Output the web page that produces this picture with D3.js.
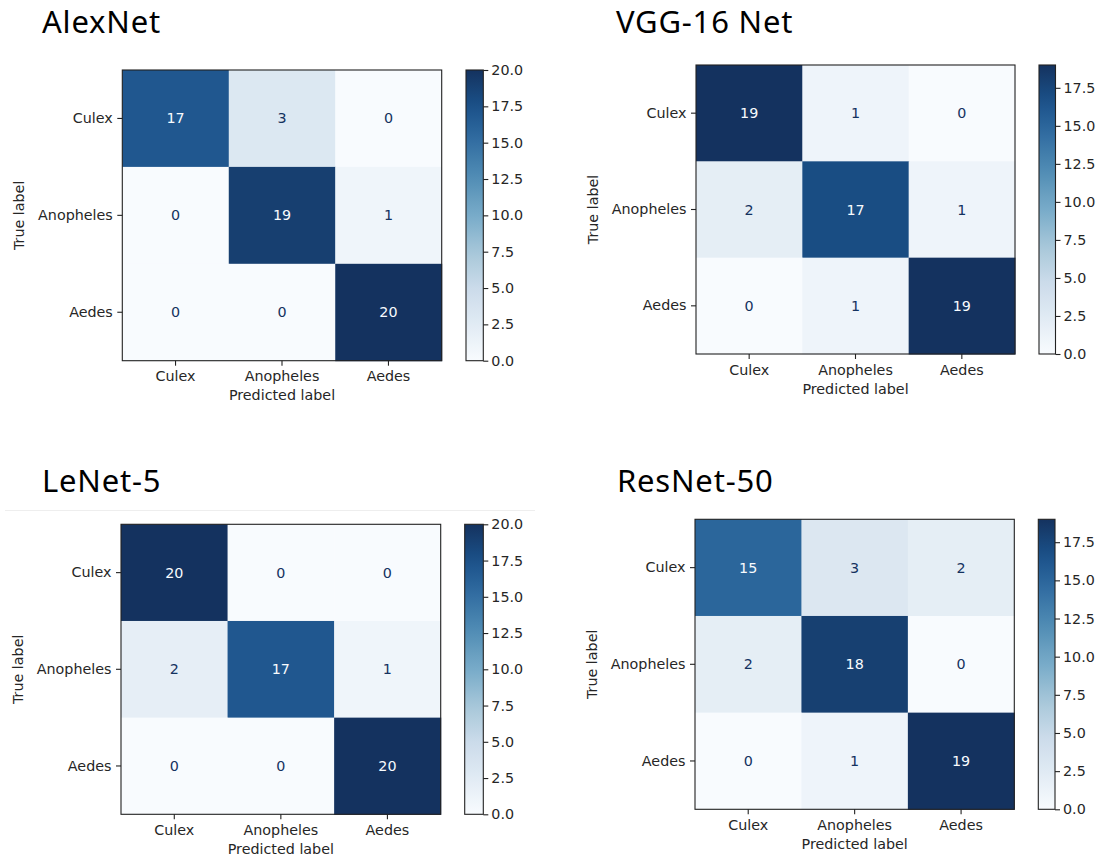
<!DOCTYPE html>
<html>
<head>
<meta charset="utf-8">
<script src="https://cdn.jsdelivr.net/npm/d3@7"></script>
<style>
  html, body { margin: 0; padding: 0; background: #ffffff; }
  svg { display: block; }
</style>
</head>
<body>
<svg id="chart" width="1101" height="857"></svg>
<script>
// ---------------- data ----------------
const categories = ["Culex", "Anopheles", "Aedes"];
const modelNames = ["AlexNet", "VGG-16 Net", "LeNet-5", "ResNet-50"];
const alexnetMatrix = [[17, 3, 0], [0, 19, 1], [0, 0, 20]];
const vgg16Matrix   = [[19, 1, 0], [2, 17, 1], [0, 1, 19]];
const lenet5Matrix  = [[20, 0, 0], [2, 17, 1], [0, 0, 20]];
const resnet50Matrix = [[15, 3, 2], [2, 18, 0], [0, 1, 19]];
const colorbarTicks = [0, 2.5, 5, 7.5, 10, 12.5, 15, 17.5, 20];
const xAxisTitle = "Predicted label";
const yAxisTitle = "True label";
// matplotlib "Blues" colormap anchor colours
const bluesColors = ["#f7fbff", "#deebf7", "#c6dbef", "#9ecae1", "#6baed6",
                     "#4292c6", "#2171b5", "#08519c", "#08306b"];

const matrices = [alexnetMatrix, vgg16Matrix, lenet5Matrix, resnet50Matrix];

// ---------------- layout (positions only) ----------------
const layout = [
  { tx: 42,  ty: 33,    x0: 122.3, y0: 70,    x1: 441.7,  y1: 360.7, c0: 466,    c1: 483.3 },
  { tx: 616, ty: 33,    x0: 696,   y0: 65,    x1: 1015,   y1: 354,   c0: 1039,   c1: 1055.5 },
  { tx: 42,  ty: 491.5, x0: 121,   y0: 524.3, x1: 440.7,  y1: 814.3, c0: 464.7,  c1: 483.3 },
  { tx: 617, ty: 491.5, x0: 695,   y0: 519.3, x1: 1014.3, y1: 809.3, c0: 1038.3, c1: 1055 }
];

const tickFont = "'DejaVu Sans', sans-serif";
const tickSize = "14.3px";
const inkColor = "#262626";

const svg = d3.select("#chart");
const defs = svg.append("defs");
const bluesRaw = d3.piecewise(d3.interpolateRgb, bluesColors);
// the reference picture is slightly washed out: reduce saturation a bit
const muted = c => { const h = d3.hsl(c); h.s *= 0.75; return h.formatHex(); };
const blues = t => muted(bluesRaw(t));
const lightText = muted(bluesColors[0]);
const darkText = muted(bluesColors[bluesColors.length - 1]);

// faint separator line under the LeNet-5 title (as in reference)
svg.append("line")
  .attr("x1", 5).attr("x2", 535).attr("y1", 510.5).attr("y2", 510.5)
  .attr("stroke", "#eeeeee").attr("stroke-width", 1);

matrices.forEach((mat, i) => {
  const L = layout[i];
  const g = svg.append("g");
  const flat = mat.flat();
  const vmin = d3.min(flat), vmax = d3.max(flat);
  const color = d3.scaleSequential(blues).domain([vmin, vmax]);
  const thresh = (vmin + vmax) / 2;

  // title
  g.append("text")
    .attr("x", L.tx).attr("y", L.ty)
    .attr("font-family", "'Noto Sans', 'Open Sans', sans-serif")
    .attr("font-size", "31px")
    .attr("letter-spacing", "0.8px")
    .attr("fill", "#000")
    .text(modelNames[i]);

  const x = d3.scaleBand().domain(categories).range([L.x0, L.x1]);
  const y = d3.scaleBand().domain(categories).range([L.y0, L.y1]);

  const cells = [];
  mat.forEach((row, r) => row.forEach((v, c) => cells.push({ r, c, v })));

  g.append("g").selectAll("rect").data(cells).join("rect")
    .attr("x", d => x(categories[d.c]))
    .attr("y", d => y(categories[d.r]))
    .attr("width", x.bandwidth() + 0.5)
    .attr("height", y.bandwidth() + 0.5)
    .attr("fill", d => color(d.v));

  g.append("g").selectAll("text").data(cells).join("text")
    .attr("x", d => x(categories[d.c]) + x.bandwidth() / 2)
    .attr("y", d => y(categories[d.r]) + y.bandwidth() / 2)
    .attr("text-anchor", "middle")
    .attr("dominant-baseline", "central")
    .attr("font-family", tickFont)
    .attr("font-size", tickSize)
    .attr("fill", d => d.v >= thresh ? lightText : darkText)
    .text(d => d.v);

  // frame
  g.append("rect")
    .attr("x", L.x0).attr("y", L.y0)
    .attr("width", L.x1 - L.x0).attr("height", L.y1 - L.y0)
    .attr("fill", "none").attr("stroke", "#222").attr("stroke-width", 1.1);

  // axes
  const xa = g.append("g").attr("transform", `translate(0,${L.y1})`)
    .call(d3.axisBottom(x).tickSize(5).tickPadding(5.5));
  const ya = g.append("g").attr("transform", `translate(${L.x0},0)`)
    .call(d3.axisLeft(y).tickSize(5).tickPadding(4.5));
  [xa, ya].forEach(a => {
    a.select(".domain").remove();
    a.selectAll("line").attr("stroke", "#222").attr("stroke-width", 1.1);
    a.selectAll("text").attr("font-family", tickFont).attr("font-size", tickSize).attr("fill", inkColor);
  });

  // axis titles
  g.append("text")
    .attr("x", (L.x0 + L.x1) / 2).attr("y", L.y1 + 39.5)
    .attr("text-anchor", "middle")
    .attr("font-family", tickFont).attr("font-size", tickSize).attr("fill", inkColor)
    .text(xAxisTitle);
  g.append("text")
    .attr("transform", `translate(${L.x0 - 98},${(L.y0 + L.y1) / 2}) rotate(-90)`)
    .attr("text-anchor", "middle")
    .attr("font-family", tickFont).attr("font-size", tickSize).attr("fill", inkColor)
    .text(yAxisTitle);

  // colorbar
  const gradId = "grad" + i;
  const grad = defs.append("linearGradient").attr("id", gradId)
    .attr("x1", 0).attr("x2", 0).attr("y1", 1).attr("y2", 0);
  d3.range(0, 1.0001, 0.05).forEach(t => {
    grad.append("stop").attr("offset", t).attr("stop-color", blues(t));
  });
  g.append("rect")
    .attr("x", L.c0).attr("y", L.y0)
    .attr("width", L.c1 - L.c0).attr("height", L.y1 - L.y0)
    .attr("fill", `url(#${gradId})`)
    .attr("stroke", "#222").attr("stroke-width", 1.1);

  const cs = d3.scaleLinear().domain([vmin, vmax]).range([L.y1, L.y0]);
  const ca = g.append("g").attr("transform", `translate(${L.c1},0)`)
    .call(d3.axisRight(cs)
      .tickValues(colorbarTicks.filter(t => t >= vmin && t <= vmax))
      .tickFormat(d3.format(".1f"))
      .tickSize(5).tickPadding(3));
  ca.select(".domain").remove();
  ca.selectAll("line").attr("stroke", "#222").attr("stroke-width", 1.1);
  ca.selectAll("text").attr("font-family", tickFont).attr("font-size", tickSize).attr("fill", inkColor);
});
</script>
</body>
</html>
